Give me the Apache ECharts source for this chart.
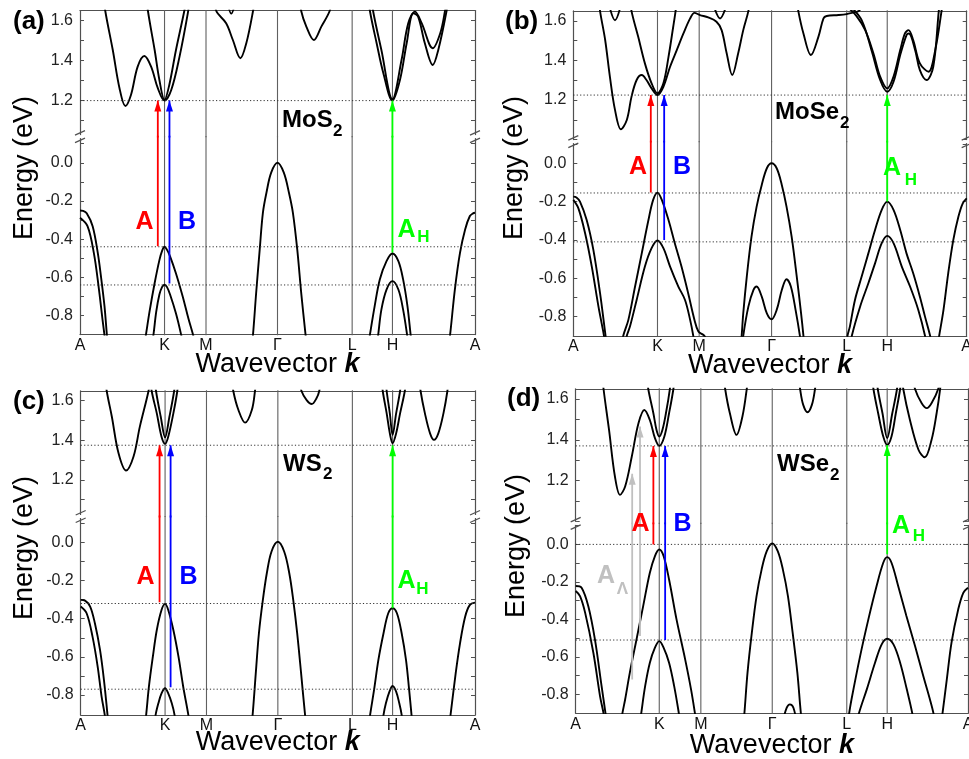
<!DOCTYPE html>
<html>
<head>
<meta charset="utf-8">
<script src="https://cdn.jsdelivr.net/npm/echarts@6.0.0/dist/echarts.min.js"></script>
<style>
html,body{margin:0;padding:0;background:#fff;}
#chart{width:969px;height:759px;}
</style>
</head>
<body>
<div id="chart"></div>
<script>
// ================= DATA =================
const kLabels = ['A', 'K', 'M', 'Γ', 'L', 'H', 'A'];
const yLabelsUpper = [1.2, 1.4, 1.6];
const yLabelsLower = [-0.8, -0.6, -0.4, -0.2, 0.0];
const yTicksUpper = [1.0, 1.1, 1.2, 1.3, 1.4, 1.5, 1.6];
const yTicksLower = [-0.8, -0.7, -0.6, -0.5, -0.4, -0.3, -0.2, -0.1, 0.0, 0.1];
const materialBase = ['MoS', 'MoSe', 'WS', 'WSe'];
const materialSub = ['2', '2', '2', '2'];
const panelTags = ['(a)', '(b)', '(c)', '(d)'];

// k-point positions along the path (fraction of path length)
const kPosMoS2 = [0, 0.214, 0.319, 0.5, 0.689, 0.791, 1];
const kPosMoSe2 = [0, 0.214, 0.320, 0.504, 0.695, 0.798, 1];
const kPosWS2 = [0, 0.214, 0.319, 0.5, 0.689, 0.791, 1];
const kPosWSe2 = [0, 0.213, 0.319, 0.501, 0.691, 0.794, 1];

// ---- MoS2 ----
const MoS2_val = [
  [[0,-0.25],[0.008,-0.252],[0.017,-0.265],[0.032,-0.332],[0.045,-0.472],[0.053,-0.594],[0.062,-0.751],[0.068,-0.9],[0.071,-0.96]],
  [[0,-0.288],[0.019,-0.332],[0.035,-0.472],[0.047,-0.647],[0.057,-0.821],[0.063,-0.92],[0.066,-0.97]],
  [[0.16,-0.99],[0.167,-0.9],[0.176,-0.78],[0.189,-0.63],[0.201,-0.51],[0.208,-0.46],[0.214,-0.44],[0.22,-0.455],[0.228,-0.49],[0.243,-0.58],[0.26,-0.7],[0.275,-0.82],[0.286,-0.9],[0.292,-0.96]],
  [[0.18,-0.98],[0.186,-0.9],[0.193,-0.78],[0.201,-0.69],[0.208,-0.65],[0.214,-0.639],[0.22,-0.65],[0.228,-0.69],[0.243,-0.79],[0.256,-0.9],[0.262,-0.96]],
  [[0.434,-0.97],[0.438,-0.9],[0.446,-0.681],[0.455,-0.454],[0.463,-0.262],[0.472,-0.157],[0.484,-0.052],[0.5,0],[0.516,-0.052],[0.529,-0.157],[0.539,-0.262],[0.55,-0.454],[0.56,-0.681],[0.571,-0.9],[0.575,-0.97]],
  [[0.728,-0.98],[0.734,-0.9],[0.746,-0.751],[0.759,-0.611],[0.776,-0.515],[0.791,-0.475],[0.806,-0.515],[0.818,-0.611],[0.829,-0.751],[0.837,-0.9],[0.841,-0.97]],
  [[0.75,-0.98],[0.755,-0.9],[0.763,-0.769],[0.776,-0.664],[0.791,-0.62],[0.806,-0.664],[0.818,-0.769],[0.828,-0.9],[0.832,-0.97]],
  [[0.932,-0.97],[0.937,-0.9],[0.949,-0.664],[0.962,-0.472],[0.975,-0.349],[0.987,-0.279],[0.995,-0.265],[1,-0.262]]
];
const MoS2_cond = [
  [[0.062,1.7],[0.064,1.648],[0.083,1.453],[0.1,1.262],[0.115,1.173],[0.129,1.228],[0.146,1.37],[0.163,1.423],[0.18,1.37],[0.197,1.262],[0.214,1.2],[0.231,1.253],[0.252,1.42],[0.273,1.637],[0.277,1.7]],
  [[0.17,1.7],[0.172,1.648],[0.189,1.453],[0.201,1.303],[0.214,1.203],[0.226,1.278],[0.243,1.453],[0.264,1.648],[0.268,1.7]],
  [[0.343,1.68],[0.345,1.648],[0.37,1.587],[0.387,1.503],[0.406,1.412],[0.421,1.487],[0.438,1.648],[0.441,1.7]],
  [[0.372,1.7],[0.383,1.635],[0.394,1.7]],
  [[0.558,1.7],[0.56,1.648],[0.573,1.57],[0.592,1.503],[0.611,1.57],[0.632,1.648],[0.636,1.7]],
  [[0.732,1.7],[0.734,1.648],[0.751,1.487],[0.768,1.337],[0.791,1.2],[0.81,1.303],[0.827,1.487],[0.844,1.637],[0.856,1.62],[0.873,1.487],[0.893,1.378],[0.907,1.453],[0.928,1.648],[0.931,1.7]],
  [[0.74,1.7],[0.742,1.648],[0.763,1.453],[0.791,1.207],[0.814,1.403],[0.831,1.587],[0.848,1.645],[0.865,1.587],[0.893,1.462],[0.912,1.537],[0.924,1.648],[0.927,1.7]]
];
const MoS2_levelsUp = [1.2];
const MoS2_levelsLow = [-0.44, -0.64];
const MoS2_arrowK = [0.197, 0.2265, 0.791];
const MoS2_arrowFrom = [-0.437, -0.632, -0.47];
const MoS2_arrowTo = [1.2, 1.2, 1.2];
const MoS2_arrowType = ['A', 'B', 'AH'];

// ---- MoSe2 ----
const MoSe2_val = [
  [[0,-0.174],[0.008,-0.178],[0.017,-0.2],[0.034,-0.296],[0.051,-0.452],[0.068,-0.678],[0.082,-0.9],[0.086,-0.96]],
  [[0,-0.191],[0.013,-0.235],[0.03,-0.365],[0.047,-0.539],[0.064,-0.748],[0.078,-0.9],[0.082,-0.96]],
  [[0.122,-0.97],[0.127,-0.9],[0.14,-0.817],[0.157,-0.643],[0.174,-0.47],[0.191,-0.296],[0.203,-0.191],[0.214,-0.153],[0.225,-0.191],[0.242,-0.296],[0.258,-0.417],[0.275,-0.539],[0.292,-0.678],[0.308,-0.817],[0.318,-0.878],[0.331,-0.896],[0.339,-0.92]],
  [[0.132,-0.96],[0.136,-0.9],[0.144,-0.852],[0.161,-0.713],[0.182,-0.539],[0.199,-0.443],[0.214,-0.403],[0.229,-0.443],[0.246,-0.539],[0.267,-0.643],[0.284,-0.713],[0.297,-0.817],[0.305,-0.9],[0.309,-0.96]],
  [[0.425,-0.97],[0.428,-0.9],[0.432,-0.783],[0.441,-0.591],[0.453,-0.383],[0.466,-0.226],[0.479,-0.113],[0.492,-0.026],[0.504,0],[0.517,-0.026],[0.53,-0.113],[0.542,-0.226],[0.555,-0.383],[0.568,-0.591],[0.579,-0.783],[0.585,-0.9],[0.588,-0.97]],
  [[0.429,-0.97],[0.432,-0.9],[0.445,-0.748],[0.458,-0.661],[0.466,-0.643],[0.479,-0.696],[0.492,-0.783],[0.504,-0.814],[0.517,-0.765],[0.53,-0.661],[0.542,-0.605],[0.553,-0.643],[0.565,-0.765],[0.576,-0.9],[0.58,-0.97]],
  [[0.693,-0.97],[0.697,-0.9],[0.703,-0.852],[0.716,-0.713],[0.733,-0.591],[0.75,-0.47],[0.767,-0.348],[0.784,-0.243],[0.798,-0.2],[0.814,-0.243],[0.831,-0.348],[0.847,-0.47],[0.864,-0.574],[0.881,-0.696],[0.894,-0.8],[0.907,-0.9],[0.912,-0.96]],
  [[0.703,-0.97],[0.708,-0.9],[0.729,-0.748],[0.75,-0.626],[0.767,-0.522],[0.784,-0.417],[0.798,-0.379],[0.814,-0.417],[0.835,-0.539],[0.856,-0.643],[0.877,-0.765],[0.894,-0.9],[0.898,-0.96]],
  [[0.925,-0.96],[0.93,-0.9],[0.941,-0.765],[0.953,-0.574],[0.966,-0.4],[0.979,-0.278],[0.99,-0.209],[1,-0.183]]
];
const MoSe2_cond = [
  [[0.066,1.7],[0.068,1.649],[0.081,1.503],[0.093,1.318],[0.106,1.15],[0.121,1.052],[0.136,1.099],[0.148,1.217],[0.161,1.301],[0.174,1.326],[0.186,1.301],[0.199,1.259],[0.214,1.225],[0.229,1.267],[0.246,1.368],[0.263,1.452],[0.28,1.536],[0.297,1.612],[0.308,1.64],[0.322,1.629],[0.343,1.617],[0.364,1.595],[0.377,1.553],[0.39,1.435],[0.404,1.326],[0.419,1.435],[0.432,1.553],[0.445,1.649],[0.448,1.7]],
  [[0.146,1.7],[0.148,1.649],[0.165,1.519],[0.182,1.385],[0.199,1.284],[0.214,1.234],[0.229,1.284],[0.242,1.418],[0.254,1.57],[0.26,1.649],[0.263,1.7]],
  [[0.091,1.68],[0.106,1.603],[0.121,1.68]],
  [[0.358,1.67],[0.373,1.612],[0.388,1.67]],
  [[0.569,1.7],[0.572,1.649],[0.585,1.536],[0.604,1.427],[0.623,1.519],[0.636,1.612],[0.644,1.624],[0.674,1.629],[0.695,1.634],[0.708,1.64],[0.725,1.649],[0.73,1.66]],
  [[0.697,1.67],[0.72,1.624],[0.742,1.553],[0.763,1.435],[0.78,1.318],[0.798,1.259],[0.814,1.318],[0.831,1.452],[0.843,1.536],[0.852,1.553],[0.864,1.503],[0.881,1.385],[0.903,1.343],[0.92,1.452],[0.936,1.649],[0.939,1.7]],
  [[0.706,1.67],[0.733,1.603],[0.758,1.452],[0.78,1.301],[0.798,1.242],[0.814,1.292],[0.831,1.427],[0.847,1.528],[0.853,1.536],[0.869,1.452],[0.881,1.351],[0.898,1.301],[0.915,1.368],[0.929,1.649],[0.932,1.7]]
];
const MoSe2_levelsUp = [1.225];
const MoSe2_levelsLow = [-0.155, -0.41];
const MoSe2_arrowK = [0.197, 0.231, 0.798];
const MoSe2_arrowFrom = [-0.153, -0.4, -0.2];
const MoSe2_arrowTo = [1.225, 1.225, 1.225];
const MoSe2_arrowType = ['A', 'B', 'AH'];

// ---- WS2 ----
const WS2_val = [
  [[0,-0.301],[0.011,-0.305],[0.024,-0.336],[0.036,-0.424],[0.049,-0.564],[0.059,-0.722],[0.068,-0.905],[0.071,-0.97]],
  [[0,-0.336],[0.015,-0.371],[0.03,-0.494],[0.043,-0.651],[0.053,-0.809],[0.061,-0.905],[0.064,-0.97]],
  [[0.162,-0.97],[0.166,-0.905],[0.173,-0.757],[0.183,-0.599],[0.193,-0.459],[0.205,-0.354],[0.214,-0.322],[0.222,-0.354],[0.235,-0.459],[0.248,-0.599],[0.26,-0.757],[0.273,-0.905],[0.277,-0.97]],
  [[0.187,-0.97],[0.19,-0.905],[0.197,-0.844],[0.205,-0.792],[0.214,-0.765],[0.222,-0.792],[0.231,-0.844],[0.238,-0.905],[0.241,-0.97]],
  [[0.432,-0.97],[0.436,-0.905],[0.444,-0.687],[0.452,-0.476],[0.462,-0.301],[0.472,-0.161],[0.484,-0.047],[0.5,0.004],[0.516,-0.047],[0.529,-0.161],[0.539,-0.301],[0.549,-0.476],[0.559,-0.687],[0.569,-0.905],[0.573,-0.97]],
  [[0.73,-0.97],[0.734,-0.905],[0.744,-0.774],[0.755,-0.616],[0.768,-0.476],[0.78,-0.371],[0.791,-0.345],[0.802,-0.371],[0.814,-0.476],[0.825,-0.616],[0.833,-0.774],[0.839,-0.905],[0.842,-0.97]],
  [[0.765,-0.97],[0.768,-0.905],[0.774,-0.844],[0.783,-0.783],[0.791,-0.753],[0.8,-0.783],[0.808,-0.844],[0.814,-0.905],[0.817,-0.97]],
  [[0.934,-0.97],[0.938,-0.905],[0.951,-0.687],[0.962,-0.529],[0.975,-0.389],[0.987,-0.327],[1,-0.315]]
];
const WS2_cond = [
  [[0.064,1.7],[0.066,1.649],[0.079,1.519],[0.096,1.334],[0.115,1.247],[0.134,1.318],[0.15,1.469],[0.172,1.649],[0.175,1.7]],
  [[0.178,1.7],[0.18,1.649],[0.193,1.536],[0.205,1.418],[0.214,1.382],[0.222,1.418],[0.235,1.536],[0.245,1.649],[0.247,1.7]],
  [[0.189,1.7],[0.191,1.649],[0.203,1.519],[0.214,1.415],[0.225,1.519],[0.237,1.649],[0.239,1.7]],
  [[0.385,1.7],[0.387,1.649],[0.4,1.553],[0.417,1.489],[0.434,1.553],[0.442,1.649],[0.444,1.7]],
  [[0.556,1.7],[0.56,1.649],[0.573,1.603],[0.586,1.583],[0.598,1.612],[0.605,1.649],[0.608,1.7]],
  [[0.764,1.7],[0.766,1.649],[0.776,1.536],[0.784,1.435],[0.791,1.385],[0.8,1.435],[0.81,1.536],[0.822,1.649],[0.824,1.7]],
  [[0.774,1.7],[0.776,1.649],[0.784,1.536],[0.791,1.427],[0.8,1.536],[0.81,1.649],[0.812,1.7]],
  [[0.86,1.7],[0.862,1.649],[0.873,1.536],[0.886,1.435],[0.896,1.402],[0.907,1.435],[0.92,1.536],[0.93,1.649],[0.932,1.7]]
];
const WS2_levelsUp = [1.375];
const WS2_levelsLow = [-0.32, -0.77];
const WS2_arrowK = [0.2, 0.228, 0.791];
const WS2_arrowFrom = [-0.313, -0.76, -0.345];
const WS2_arrowTo = [1.375, 1.375, 1.375];
const WS2_arrowType = ['A', 'B', 'AH'];

// ---- WSe2 ----
const WSe2_val = [
  [[0,-0.222],[0.015,-0.231],[0.032,-0.329],[0.049,-0.507],[0.066,-0.756],[0.076,-0.901],[0.08,-0.96]],
  [[0,-0.249],[0.011,-0.276],[0.024,-0.364],[0.045,-0.578],[0.062,-0.809],[0.071,-0.901],[0.075,-0.96]],
  [[0.115,-0.96],[0.119,-0.901],[0.126,-0.827],[0.138,-0.684],[0.155,-0.507],[0.172,-0.329],[0.189,-0.151],[0.202,-0.062],[0.213,-0.027],[0.224,-0.062],[0.238,-0.187],[0.257,-0.4],[0.279,-0.613],[0.294,-0.773],[0.304,-0.901],[0.308,-0.96]],
  [[0.163,-0.96],[0.167,-0.901],[0.177,-0.756],[0.189,-0.631],[0.202,-0.551],[0.213,-0.516],[0.224,-0.551],[0.238,-0.631],[0.251,-0.756],[0.263,-0.901],[0.267,-0.96]],
  [[0.427,-0.96],[0.43,-0.901],[0.438,-0.684],[0.449,-0.471],[0.461,-0.276],[0.474,-0.133],[0.487,-0.036],[0.501,0.005],[0.515,-0.036],[0.528,-0.133],[0.541,-0.276],[0.553,-0.471],[0.565,-0.684],[0.574,-0.901],[0.578,-0.96]],
  [[0.527,-0.95],[0.538,-0.871],[0.546,-0.853],[0.555,-0.871],[0.563,-0.95]],
  [[0.693,-0.96],[0.697,-0.901],[0.703,-0.827],[0.725,-0.596],[0.746,-0.4],[0.767,-0.222],[0.784,-0.098],[0.794,-0.068],[0.805,-0.098],[0.822,-0.222],[0.843,-0.382],[0.865,-0.542],[0.886,-0.702],[0.903,-0.827],[0.912,-0.901],[0.916,-0.96]],
  [[0.717,-0.96],[0.722,-0.901],[0.742,-0.773],[0.763,-0.631],[0.78,-0.533],[0.794,-0.503],[0.81,-0.533],[0.827,-0.631],[0.844,-0.773],[0.858,-0.901],[0.862,-0.96]],
  [[0.931,-0.96],[0.935,-0.901],[0.946,-0.72],[0.958,-0.524],[0.975,-0.347],[0.988,-0.258],[1,-0.231]]
];
const WSe2_cond = [
  [[0.069,1.7],[0.071,1.649],[0.085,1.448],[0.1,1.22],[0.113,1.13],[0.126,1.171],[0.143,1.318],[0.16,1.481],[0.175,1.546],[0.189,1.497],[0.202,1.408],[0.213,1.37],[0.226,1.416],[0.238,1.53],[0.249,1.649],[0.251,1.7]],
  [[0.183,1.7],[0.185,1.649],[0.198,1.53],[0.206,1.448],[0.213,1.416],[0.221,1.448],[0.23,1.53],[0.24,1.649],[0.242,1.7]],
  [[0.379,1.7],[0.381,1.649],[0.393,1.53],[0.41,1.424],[0.425,1.514],[0.436,1.649],[0.438,1.7]],
  [[0.569,1.7],[0.572,1.649],[0.58,1.571],[0.591,1.535],[0.602,1.571],[0.61,1.649],[0.613,1.7]],
  [[0.757,1.7],[0.759,1.649],[0.771,1.53],[0.784,1.416],[0.794,1.375],[0.805,1.416],[0.816,1.53],[0.827,1.649],[0.829,1.7]],
  [[0.768,1.7],[0.77,1.649],[0.782,1.53],[0.794,1.408],[0.807,1.53],[0.819,1.649],[0.821,1.7]],
  [[0.833,1.7],[0.835,1.649],[0.852,1.497],[0.874,1.35],[0.89,1.314],[0.907,1.399],[0.92,1.53],[0.929,1.649],[0.931,1.7]],
  [[0.862,1.7],[0.865,1.649],[0.882,1.579],[0.895,1.555],[0.907,1.579],[0.924,1.649],[0.927,1.7]]
];
const WSe2_levelsUp = [1.37];
const WSe2_levelsLow = [0.0, -0.51];
const WSe2_arrowK = [0.198, 0.228, 0.794, 0.144, 0.164];
const WSe2_arrowFrom = [0.0, -0.51, -0.053, -0.72, -0.489];
const WSe2_arrowTo = [1.37, 1.37, 1.375, 1.233, 1.465];
const WSe2_arrowType = ['A', 'B', 'AH', 'AL', 'AL'];

// ================= STYLE / LAYOUT =================
const FONT = '"Liberation Sans", Arial, Helvetica, sans-serif';
const FRAME = '#505050';
const arrowColors = { A: '#ff0000', B: '#0000ff', AH: '#00ff00', AL: '#c0c0c0' };

const panels = [
  { kPos: kPosMoS2, cond: MoS2_cond, val: MoS2_val, lvU: MoS2_levelsUp, lvL: MoS2_levelsLow, aK: MoS2_arrowK, aF: MoS2_arrowFrom, aT: MoS2_arrowTo, aTy: MoS2_arrowType },
  { kPos: kPosMoSe2, cond: MoSe2_cond, val: MoSe2_val, lvU: MoSe2_levelsUp, lvL: MoSe2_levelsLow, aK: MoSe2_arrowK, aF: MoSe2_arrowFrom, aT: MoSe2_arrowTo, aTy: MoSe2_arrowType },
  { kPos: kPosWS2, cond: WS2_cond, val: WS2_val, lvU: WS2_levelsUp, lvL: WS2_levelsLow, aK: WS2_arrowK, aF: WS2_arrowFrom, aT: WS2_arrowTo, aTy: WS2_arrowType },
  { kPos: kPosWSe2, cond: WSe2_cond, val: WSe2_val, lvU: WSe2_levelsUp, lvL: WSe2_levelsLow, aK: WSe2_arrowK, aF: WSe2_arrowFrom, aT: WSe2_arrowTo, aTy: WSe2_arrowType }
];

const layout = [
  { left: 80, width: 395, top: 10.6, upH: 126, loH: 198, upMin: 1.02, upMax: 1.65, loMin: -0.9, loMax: 0.137,
    tag: [13, 22], ylab: [25, 168], xlab: [277.5, 365], mat: [282, 120], sub: [333, 131],
    ann: { A: [144.5, 222], B: [187, 222], AH: [406.5, 230.5], AHs: [423.5, 237] } },
  { left: 573.3, width: 393.4, top: 10.9, upH: 130.7, loH: 194.2, upMin: 0.99, upMax: 1.65, loMin: -0.9, loMax: 0.113,
    tag: [505, 22], ylab: [515, 168], xlab: [770, 366], mat: [775, 112.5], sub: [840, 123],
    ann: { A: [638, 167], B: [682, 167], AH: [892, 168], AHs: [911, 180] } },
  { left: 80.7, width: 394.3, top: 390.8, upH: 125.7, loH: 198.4, upMin: 1.015, upMax: 1.65, loMin: -0.905, loMax: 0.137,
    tag: [13, 402], ylab: [25, 548], xlab: [277.8, 743], mat: [283, 464], sub: [323, 474.5],
    ann: { A: [145.5, 577.5], B: [188.5, 577.5], AH: [406.5, 581], AHs: [422.5, 589.5] } },
  { left: 575.7, width: 392.3, top: 388.8, upH: 134.6, loH: 189.75, upMin: 0.99, upMax: 1.65, loMin: -0.9, loMax: 0.112,
    tag: [507, 399], ylab: [517, 546], xlab: [771.9, 746], mat: [777, 464], sub: [830, 475],
    ann: { A: [640.5, 524], B: [682.5, 524], AH: [901, 526.5], AHs: [919, 536.5], AL: [606, 576], ALs: [622.5, 589] } }
];

// ================= BUILD =================
const grid = [], xAxis = [], yAxis = [], series = [], graphic = [];

function kLabelFor(v, kPos) {
  let best = 0, d = 1e9;
  kPos.forEach((k, i) => { const dd = Math.abs(k - v); if (dd < d) { d = dd; best = i; } });
  return kLabels[best];
}

function makeY(g, pos, min, max, labels, ticks, showLabel) {
  return {
    gridIndex: g, type: 'value', position: pos, min: min, max: max, scale: true,
    axisLine: { show: true, onZero: false, lineStyle: { color: FRAME, width: 1.2 } },
    axisTick: { show: true, inside: true, length: 4, customValues: ticks.filter(v => v > min + 0.005 && v < max - 0.005), lineStyle: { color: FRAME, width: 1 } },
    axisLabel: { show: showLabel, customValues: labels, formatter: v => Number(v).toFixed(1), fontSize: 16, color: '#222', margin: 7, fontFamily: FONT },
    splitLine: { show: false }, minorTick: { show: false }
  };
}

function lineSeries(xi, yi, data, color, width, extra) {
  return Object.assign({
    type: 'line', xAxisIndex: xi, yAxisIndex: yi, data: data, symbol: 'none', showSymbol: false,
    smooth: false, clip: true, silent: true, animation: false,
    lineStyle: { color: color, width: width }, itemStyle: { color: color }, z: 2
  }, extra || {});
}

panels.forEach((p, i) => {
  const L = layout[i];
  const gu = grid.length;
  grid.push({ left: L.left, top: L.top, width: L.width, height: L.upH, containLabel: false, outerBoundsMode: 'none' });
  const gl = grid.length;
  grid.push({ left: L.left, top: L.top + L.upH, width: L.width, height: L.loH, containLabel: false, outerBoundsMode: 'none' });

  const xu = xAxis.length;
  xAxis.push({ gridIndex: gu, type: 'value', min: 0, max: 1, position: 'top',
    axisLine: { show: true, onZero: false, lineStyle: { color: FRAME, width: 1.2 } },
    axisTick: { show: false }, axisLabel: { show: false }, splitLine: { show: false } });
  const xl = xAxis.length;
  xAxis.push({ gridIndex: gl, type: 'value', min: 0, max: 1, position: 'bottom',
    axisLine: { show: true, onZero: false, lineStyle: { color: FRAME, width: 1.2 } },
    axisTick: { show: false },
    axisLabel: { show: true, customValues: p.kPos, showMinLabel: true, showMaxLabel: true,
      formatter: v => kLabelFor(v, p.kPos), fontSize: 16, color: '#111', margin: 3, fontFamily: FONT },
    splitLine: { show: false } });

  const yu = yAxis.length;
  yAxis.push(makeY(gu, 'left', L.upMin, L.upMax, yLabelsUpper, yTicksUpper, true));
  yAxis.push(makeY(gu, 'right', L.upMin, L.upMax, yLabelsUpper, yTicksUpper, false));
  const yl = yAxis.length;
  yAxis.push(makeY(gl, 'left', L.loMin, L.loMax, yLabelsLower, yTicksLower, true));
  yAxis.push(makeY(gl, 'right', L.loMin, L.loMax, yLabelsLower, yTicksLower, false));

  // k-point vertical lines
  p.kPos.slice(1, 6).forEach(k => {
    series.push(lineSeries(xu, yu, [[k, -5], [k, 5]], '#606060', 1.1, { z: 1 }));
    series.push(lineSeries(xl, yl, [[k, -5], [k, 5]], '#606060', 1.1, { z: 1 }));
  });
  // dotted energy levels
  p.lvU.forEach(e => series.push(lineSeries(xu, yu, [[0, e], [1, e]], '#333', 1, { lineStyle: { color: '#333', width: 1, type: [1.2, 2.2] }, z: 4 })));
  p.lvL.forEach(e => series.push(lineSeries(xl, yl, [[0, e], [1, e]], '#333', 1, { lineStyle: { color: '#333', width: 1, type: [1.2, 2.2] }, z: 4 })));
  // bands
  p.cond.forEach(b => series.push(lineSeries(xu, yu, b, '#000', 1.9, { smooth: 0.35 })));
  p.val.forEach(b => series.push(lineSeries(xl, yl, b, '#000', 1.9, { smooth: 0.35 })));
  // arrows
  p.aK.forEach((k, j) => {
    const c = arrowColors[p.aTy[j]];
    series.push(lineSeries(xl, yl, [[k, p.aF[j]], [k, 5]], c, 1.8, { z: 5 }));
    series.push(lineSeries(xu, yu, [
      { value: [k, -5], symbol: 'none' },
      { value: [k, p.aT[j]], symbol: 'triangle', symbolSize: [7, 11], symbolOffset: [0, 5.5] }
    ], c, 1.8, { z: 5, symbol: 'triangle', showSymbol: true }));
  });

  // ---------- text / graphics ----------
  const t = (x, y, text, size, o) => {
    o = o || {};
    return { type: 'text', x: x, y: y, rotation: o.rot || 0, z: o.z || 100, silent: true,
      style: Object.assign({ text: text, fontSize: size, fontFamily: FONT, fontWeight: o.weight || 'normal',
        fontStyle: 'normal', fill: o.color || '#000', align: o.align || 'center', verticalAlign: 'middle',
        textAlign: o.align || 'center', textVerticalAlign: 'middle' }, o.rich ? { rich: o.rich } : {}) };
  };
  graphic.push(t(L.tag[0], L.tag[1], panelTags[i], 26, { weight: 'bold', align: 'left' }));
  graphic.push(t(L.ylab[0], L.ylab[1], 'Energy (eV)', 27, { rot: Math.PI / 2 }));
  graphic.push(t(L.xlab[0], L.xlab[1], '{n|Wavevector }{k|k}', 27, { z: 0,
    rich: { n: { fontSize: 27, fontFamily: FONT, fill: '#000' },
            k: { fontSize: 27, fontFamily: FONT, fontWeight: 'bold', fontStyle: 'italic', fill: '#000' } } }));
  graphic.push(t(L.mat[0], L.mat[1], materialBase[i], 24, { weight: 'bold', align: 'left' }));
  graphic.push(t(L.sub[0], L.sub[1], materialSub[i], 17, { weight: 'bold', align: 'left' }));
  graphic.push(t(L.ann.A[0], L.ann.A[1], 'A', 25, { weight: 'bold', color: arrowColors.A }));
  graphic.push(t(L.ann.B[0], L.ann.B[1], 'B', 25, { weight: 'bold', color: arrowColors.B }));
  graphic.push(t(L.ann.AH[0], L.ann.AH[1], 'A', 25, { weight: 'bold', color: arrowColors.AH }));
  graphic.push(t(L.ann.AHs[0], L.ann.AHs[1], 'H', 17, { weight: 'bold', color: arrowColors.AH }));
  if (L.ann.AL) {
    graphic.push(t(L.ann.AL[0], L.ann.AL[1], 'A', 25, { weight: 'bold', color: arrowColors.AL }));
    graphic.push(t(L.ann.ALs[0], L.ann.ALs[1], 'Λ', 17, { weight: 'bold', color: arrowColors.AL }));
  }
  // axis break marks
  const yb = L.top + L.upH;
  [L.left, L.left + L.width].forEach(x => {
    graphic.push({ type: 'rect', shape: { x: x - 2, y: yb - 1.5, width: 4, height: 3 }, style: { fill: '#fff' }, z: 99, silent: true });
    graphic.push({ type: 'line', shape: { x1: x - 5, y1: yb - 1.5, x2: x + 5, y2: yb - 6 }, style: { stroke: FRAME, lineWidth: 1.2 }, z: 100, silent: true });
    graphic.push({ type: 'line', shape: { x1: x - 5, y1: yb + 6, x2: x + 5, y2: yb + 1.5 }, style: { stroke: FRAME, lineWidth: 1.2 }, z: 100, silent: true });
  });
});

const chart = echarts.init(document.getElementById('chart'), null, { renderer: 'canvas' });
chart.setOption({
  backgroundColor: '#fff',
  animation: false,
  textStyle: { fontFamily: FONT },
  grid: grid, xAxis: xAxis, yAxis: yAxis, series: series, graphic: graphic
});
</script>
</body>
</html>
